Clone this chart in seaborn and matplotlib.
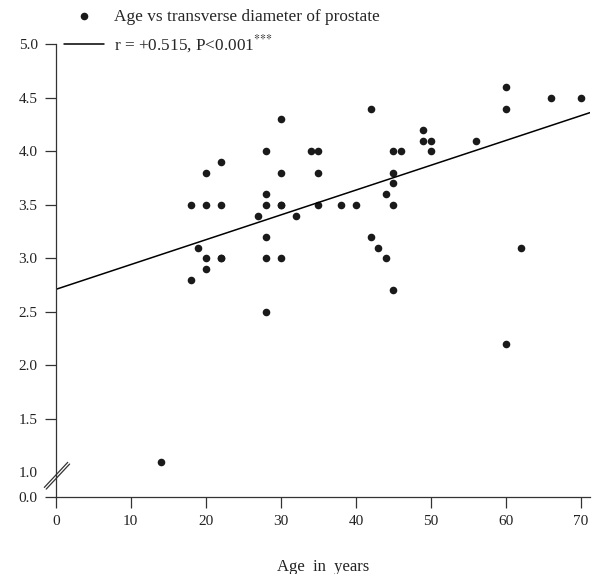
import numpy as np
import pandas as pd
import matplotlib
matplotlib.use("Agg")
import matplotlib.pyplot as plt
import seaborn as sns

# age (years) and transverse diameter of prostate
age = [14, 18, 18, 19, 20, 20, 20, 20, 22, 22, 22, 22, 27,
       28, 28, 28, 28, 28, 28, 30, 30, 30, 30, 30, 32, 34,
       35, 35, 35, 38, 40, 42, 42, 43, 44, 44, 45, 45, 45, 45, 45,
       46, 49, 49, 50, 50, 56, 60, 60, 60, 62, 66, 70]
diameter = [1.1, 3.5, 2.8, 3.1, 3.8, 3.5, 3.0, 2.9, 3.9, 3.5, 3.0, 3.0, 3.4,
            4.0, 3.6, 3.5, 3.2, 3.0, 2.5, 4.3, 3.8, 3.5, 3.5, 3.0, 3.4, 4.0,
            4.0, 3.8, 3.5, 3.5, 3.5, 4.4, 3.2, 3.1, 3.6, 3.0, 4.0, 3.8, 3.7, 3.5, 2.7,
            4.0, 4.2, 4.1, 4.1, 4.0, 4.1, 4.6, 4.4, 2.2, 3.1, 4.5, 4.5]

# fitted line as drawn on the chart
fit_intercept = 2.71
fit_slope = 0.0232

x_ticks = [0, 10, 20, 30, 40, 50, 60, 70]
y_ticks = [1.0, 1.5, 2.0, 2.5, 3.0, 3.5, 4.0, 4.5, 5.0]
y_floor = 0.77   # where the broken axis puts "0.0"

df = pd.DataFrame({"age": age, "diameter": diameter})

sns.set_style("ticks")
plt.rcParams["font.family"] = ["Liberation Serif", "DejaVu Serif"]
plt.rcParams["mathtext.fontset"] = "stix"

fig = plt.figure(figsize=(5.96, 5.74), dpi=100)
ax = fig.add_axes([0.0935, 0.1341, 0.8965, 0.7887])
ax.set_xlim(0, 71.2)
ax.set_ylim(y_floor, 5.0)

sns.scatterplot(data=df, x="age", y="diameter", ax=ax, color="#1a1a1a",
                s=30, linewidth=0, label="Age vs transverse diameter of prostate")
ax.axline((0, fit_intercept), slope=fit_slope, color="black", linewidth=1.1,
          label="r = +0.515, P<0.001$^{{*}{*}{*}}$")

sns.despine(ax=ax)
for side in ["left", "bottom"]:
    ax.spines[side].set_color("#333333")
    ax.spines[side].set_linewidth(0.9)

ax.set_xticks(x_ticks)
ax.set_yticks([y_floor] + y_ticks)
ax.set_yticklabels(["0.0"] + [f"{v:.1f}" for v in y_ticks])
ax.tick_params(axis="both", length=8, width=0.9, color="#333333",
               labelsize=11, labelcolor="#222222", pad=5)
ax.yaxis.get_major_ticks()[1].tick1line.set_visible(False)

# axis break marks
for dx, dy in [(0.0, 0.0), (0.25, -0.016)]:
    ax.plot([-1.52 + dx, 1.6 + dx], [0.86 + dy, 1.094 + dy], color="#333333",
            linewidth=0.9, clip_on=False)

ax.set_xlabel("Age  in  years", fontsize=12, labelpad=22, color="#222222")
ax.set_ylabel("")

ax.get_legend().remove()
handles, labels = ax.get_legend_handles_labels()
fig.legend(handles, labels, loc="upper left", bbox_to_anchor=(0.108, 0.985),
           frameon=False, fontsize=12.4, handlelength=2.3, handletextpad=0.6,
           labelspacing=0.5, borderpad=0, borderaxespad=0)

fig.savefig("out.png", dpi=100)
